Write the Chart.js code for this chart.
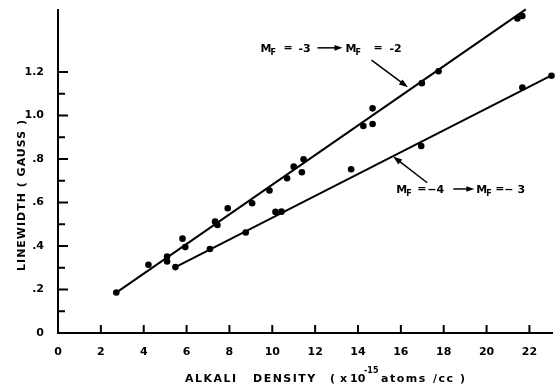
<!DOCTYPE html>
<html>
<head>
<meta charset="utf-8">
<script src="https://cdn.jsdelivr.net/npm/chart.js@4.4.1/dist/chart.umd.min.js"></script>
<style>
  html, body { margin:0; padding:0; background:#fff; }
  #wrap { width:557px; height:389px; }
</style>
</head>
<body>
<div id="wrap"><canvas id="c" width="557" height="389"></canvas></div>
<script>
// M_F = -3 -> M_F = -2 (upper points)
const upperX = [2.72, 4.22, 5.09, 5.09, 5.81, 5.94, 7.33, 7.44, 7.92, 9.06, 9.87, 10.69, 11.00, 11.38, 11.46, 14.25, 14.68, 14.68, 16.98, 17.76, 21.44, 21.67];
const upperY = [0.186, 0.314, 0.352, 0.329, 0.434, 0.395, 0.512, 0.497, 0.574, 0.597, 0.655, 0.712, 0.765, 0.739, 0.799, 0.952, 0.961, 1.033, 1.149, 1.204, 1.446, 1.458];
// M_F = -4 -> M_F = -3 (lower points)
const lowerX = [5.48, 7.09, 8.76, 10.15, 10.43, 13.68, 16.95, 21.67, 23.03];
const lowerY = [0.303, 0.386, 0.462, 0.557, 0.558, 0.753, 0.860, 1.129, 1.183];
// straight fit lines, end points
const upperFitX = [2.72, 21.83];
const upperFitY = [0.186, 1.488];
const lowerFitX = [5.48, 23.1];
const lowerFitY = [0.303, 1.188];

const xTicks = [0, 2, 4, 6, 8, 10, 12, 14, 16, 18, 20, 22];
const yTicks = [0, 0.1, 0.2, 0.3, 0.4, 0.5, 0.6, 0.7, 0.8, 0.9, 1.0, 1.1, 1.2];
const yLabels = ['0', '', '.2', '', '.4', '', '.6', '', '.8', '', '1.0', '', '1.2'];

const xTitleWords = ['ALKALI', 'DENSITY', '(', 'x', '10', '-15', 'atoms', '/cc', ')'];
const yTitle = 'LINEWIDTH ( GAUSS )';
// annotations: values either side of the arrow, label anchor, pointer from/to (data units)
const upperNote = { a: '-3', b: '-2', at: [9.45, 1.293], from: [14.63, 1.255], to: [16.33, 1.13] };
const lowerNote = { a: '−4', b: '− 3', at: [15.79, 0.644], from: [17.23, 0.691], to: [15.64, 0.812] };

const FONT = '"DejaVu Sans", sans-serif';

function pts(xs, ys) { return xs.map((x, i) => ({ x, y: ys[i] })); }

function arrow(ctx, x1, y1, x2, y2, head) {
  const ang = Math.atan2(y2 - y1, x2 - x1);
  const c = Math.cos(ang), s = Math.sin(ang);
  ctx.beginPath();
  ctx.moveTo(x1, y1);
  ctx.lineTo(x2 - c * head * 0.8, y2 - s * head * 0.8);
  ctx.stroke();
  ctx.beginPath();
  ctx.moveTo(x2, y2);
  ctx.lineTo(x2 - head * c + head * 0.35 * s, y2 - head * s - head * 0.35 * c);
  ctx.lineTo(x2 - head * c - head * 0.35 * s, y2 - head * s + head * 0.35 * c);
  ctx.closePath();
  ctx.fill();
}

// offsets (px) of: M, F, =, a, arrow start, arrow end, M, F, =, b
const noteOffsets = [
  [0, 10, 23, 38, 57, 82, 85, 95, 113, 129],
  [0, 10, 21, 31, 57, 78, 80, 90, 99, 108]
];

function mfLabel(ctx, x, y, n, o) {
  ctx.textAlign = 'left';
  ctx.textBaseline = 'alphabetic';
  const big = 'bold 11px ' + FONT, small = 'bold 8px ' + FONT;
  ctx.font = big; ctx.fillText('M', x + o[0], y);
  ctx.font = small; ctx.fillText('F', x + o[1], y + 3);
  ctx.font = big; ctx.fillText('=', x + o[2], y - 1);
  ctx.fillText(n.a, x + o[3], y);
  arrow(ctx, x + o[4], y - 4, x + o[5], y - 4, 8);
  ctx.fillText('M', x + o[6], y);
  ctx.font = small; ctx.fillText('F', x + o[7], y + 3);
  ctx.font = big; ctx.fillText('=', x + o[8], y - 1);
  ctx.fillText(n.b, x + o[9], y);
}

const decor = {
  id: 'decor',
  afterDraw(chart) {
    const ctx = chart.ctx, xs = chart.scales.x, ys = chart.scales.y;
    const x0 = xs.getPixelForValue(0), y0 = ys.getPixelForValue(0);
    ctx.save();
    ctx.strokeStyle = '#000';
    ctx.fillStyle = '#000';
    ctx.lineWidth = 2;
    // axes
    ctx.beginPath();
    ctx.moveTo(x0, chart.chartArea.top);
    ctx.lineTo(x0, y0);
    ctx.lineTo(chart.chartArea.right, y0);
    ctx.stroke();
    // inward ticks
    ctx.beginPath();
    xTicks.forEach(v => {
      if (v === 0) return;
      const px = xs.getPixelForValue(v);
      ctx.moveTo(px, y0); ctx.lineTo(px, y0 - 8);
    });
    yTicks.forEach((v, i) => {
      if (v === 0) return;
      const py = ys.getPixelForValue(v);
      ctx.moveTo(x0, py); ctx.lineTo(x0 + (yLabels[i] ? 10 : 7), py);
    });
    ctx.stroke();

    // x title, word by word
    const wordX = [185, 253, 330, 340, 350, 364, 381, 433, 460];
    const spacing = ['1.5px', '1.5px', '0px', '0px', '0px', '0px', '1.5px', '1.5px', '0px'];
    ctx.textBaseline = 'alphabetic';
    ctx.textAlign = 'left';
    xTitleWords.forEach((w, i) => {
      const sup = i === 5;
      ctx.font = (sup ? 'bold 8px ' : 'bold 11px ') + FONT;
      ctx.letterSpacing = spacing[i];
      ctx.fillText(w, wordX[i], sup ? 373 : 382);
    });

    ctx.save();
    ctx.translate(25, 195);
    ctx.rotate(-Math.PI / 2);
    ctx.textAlign = 'center';
    ctx.letterSpacing = '1px';
    ctx.font = 'bold 11px ' + FONT;
    ctx.fillText(yTitle, 0, 0);
    ctx.restore();

    // annotations
    ctx.letterSpacing = '0px';
    ctx.lineWidth = 1.5;
    [upperNote, lowerNote].forEach((n, k) => {
      mfLabel(ctx, xs.getPixelForValue(n.at[0]), ys.getPixelForValue(n.at[1]), n, noteOffsets[k]);
      arrow(ctx, xs.getPixelForValue(n.from[0]), ys.getPixelForValue(n.from[1]),
        xs.getPixelForValue(n.to[0]), ys.getPixelForValue(n.to[1]), 9);
    });
    ctx.restore();
  }
};

new Chart(document.getElementById('c'), {
  type: 'scatter',
  data: {
    datasets: [
      { data: pts(upperFitX, upperFitY), showLine: true, borderColor: '#000', borderWidth: 2, pointRadius: 0, clip: false },
      { data: pts(lowerFitX, lowerFitY), showLine: true, borderColor: '#000', borderWidth: 2, pointRadius: 0, clip: false },
      { data: pts(upperX, upperY), pointRadius: 3.3, backgroundColor: '#000', borderColor: '#000', borderWidth: 0, clip: false },
      { data: pts(lowerX, lowerY), pointRadius: 3.3, backgroundColor: '#000', borderColor: '#000', borderWidth: 0, clip: false }
    ]
  },
  options: {
    responsive: false,
    animation: false,
    layout: { padding: { top: 9, right: 0, bottom: 0, left: 0 } },
    plugins: { legend: { display: false }, tooltip: { enabled: false } },
    scales: {
      x: {
        type: 'linear', min: 0, max: 23.1,
        afterFit: s => { s.height = 56; s.paddingLeft = 0; s.paddingRight = 0; },
        afterBuildTicks: s => { s.ticks = xTicks.map(v => ({ value: v })); },
        grid: { display: false },
        border: { display: false },
        ticks: { color: '#000', font: { family: FONT, size: 11, weight: 'bold' }, padding: 5, maxRotation: 0, callback: v => String(v) }
      },
      y: {
        type: 'linear', min: 0, max: 1.49,
        afterFit: s => { s.width = 58; s.paddingTop = 0; s.paddingBottom = 0; },
        afterBuildTicks: s => { s.ticks = yTicks.map(v => ({ value: v })); },
        grid: { display: false },
        border: { display: false },
        ticks: { color: '#000', font: { family: FONT, size: 11, weight: 'bold' }, padding: 6, autoSkip: false,
          callback: (v, i) => yLabels[i] }
      }
    }
  },
  plugins: [decor]
});
</script>
</body>
</html>
